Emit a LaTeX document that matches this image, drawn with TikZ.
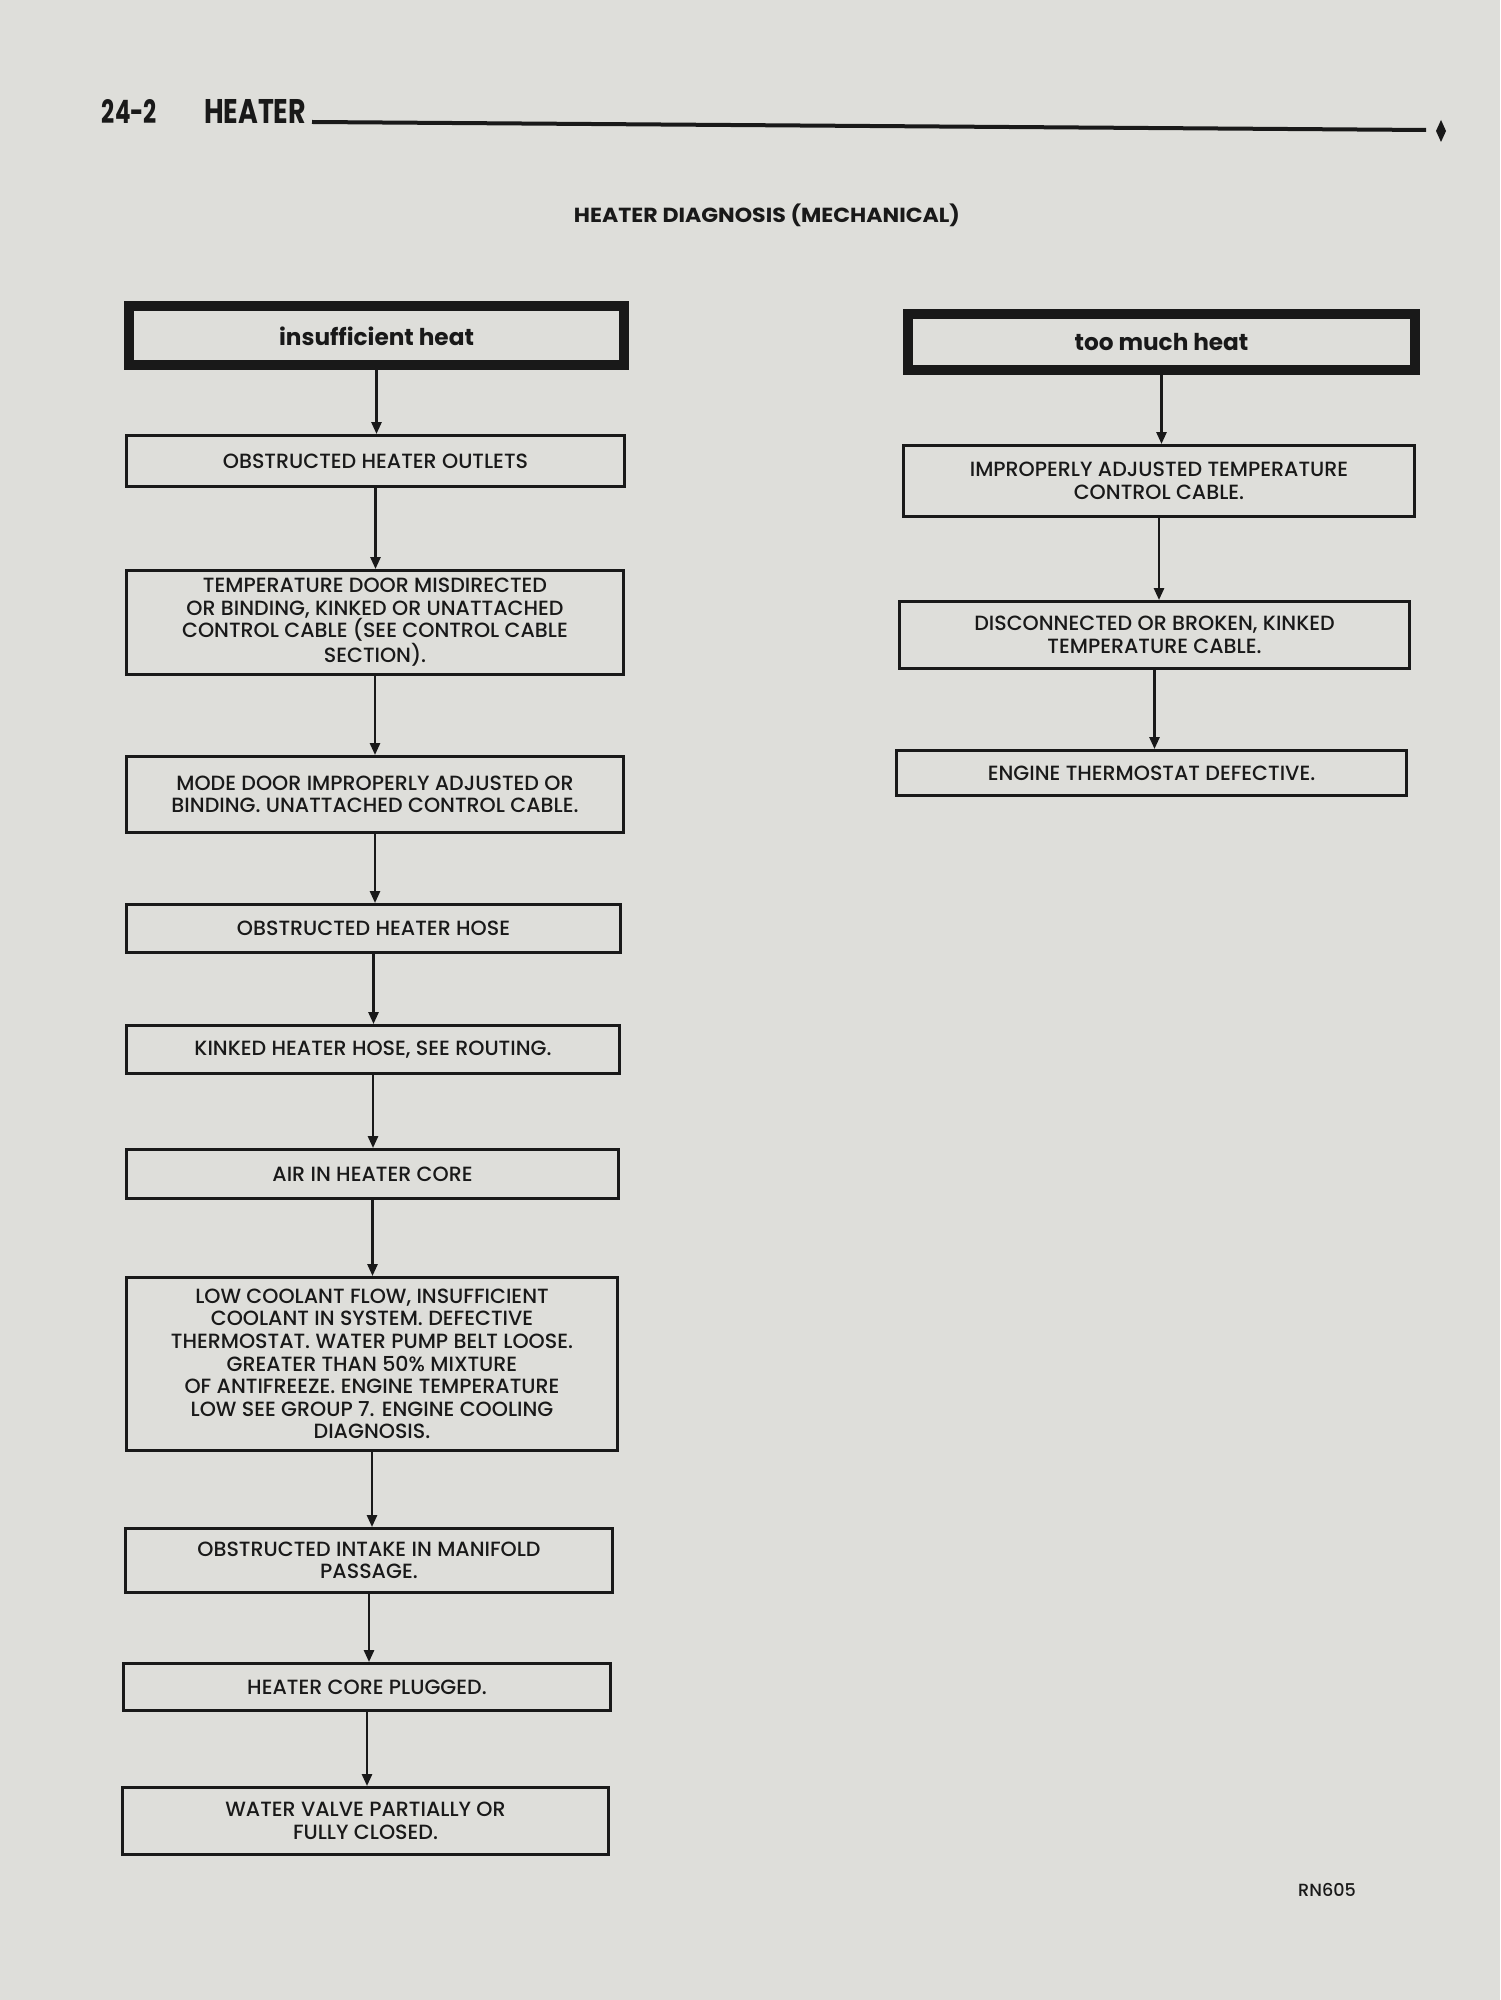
\documentclass[tikz,border=0pt]{standalone}
\usepackage{fontspec}
\setmainfont{Poppins}[UprightFont={* Medium}, BoldFont={* Bold}]
\usetikzlibrary{arrows.meta}
\definecolor{paper}{RGB}{222,222,218}
\definecolor{ink}{RGB}{25,25,25}
\begin{document}
\begin{tikzpicture}[x=0.5pt,y=-0.5pt,
  box/.style={draw=ink, line width=1.25pt, align=center, inner sep=0pt, text=ink,
    font=\fontsize{10.3}{11.3}\selectfont},
  topbox/.style={draw=ink, line width=5pt, align=center, inner sep=0pt, text=ink,
    font=\fontsize{11.6}{13}\selectfont\bfseries},
  flow/.style={draw=ink, line width=1.3pt, -{Triangle[length=6pt,width=5pt]}}
]
\fill[paper] (0,0) rectangle (1500,2000);
\useasboundingbox (0,0) rectangle (1500,2000);

% header
\node[text=ink] (pg) at (129.5,112) {\resizebox{27.5pt}{12pt}{\bfseries 24-2}};
\node[text=ink] (sec) at (255,112) {\resizebox{51pt}{12pt}{\bfseries HEATER}};
\coordinate (r1) at (312,122);
\coordinate (r2) at (1426,130);
\draw[ink, line width=2pt] (r1) -- (r2);
\fill[ink] (1441,120) -- (1446,131) -- (1441,142) -- (1436,131) -- cycle;
\node[text=ink] (title) at (767,215) {\resizebox{193pt}{9.3pt}{\bfseries HEATER DIAGNOSIS (MECHANICAL)}};

% left column
\node[topbox, minimum width=247.5pt, minimum height=29.5pt] (ins) at (376.5,336) {insufficient heat};
\node[box, minimum width=249.2pt, minimum height=25.7pt] (outlets) at (375.5,461) {OBSTRUCTED HEATER OUTLETS};
\node[box, minimum width=248.7pt, minimum height=52.2pt] (tempdoor) at (375,622.5) {TEMPERATURE DOOR MISDIRECTED\\OR BINDING, KINKED OR UNATTACHED\\CONTROL CABLE (SEE CONTROL CABLE\\SECTION).};
\node[box, minimum width=248.7pt, minimum height=38.2pt] (mode) at (375,794.5) {MODE DOOR IMPROPERLY ADJUSTED OR\\BINDING. UNATTACHED CONTROL CABLE.};
\node[box, minimum width=247.2pt, minimum height=24.2pt] (hose) at (373.5,928.5) {OBSTRUCTED HEATER HOSE};
\node[box, minimum width=246.7pt, minimum height=24.2pt] (kinked) at (373,1049.5) {KINKED HEATER HOSE, SEE ROUTING.};
\node[box, minimum width=246.2pt, minimum height=24.7pt] (air) at (372.5,1174) {AIR IN HEATER CORE};
\node[box, minimum width=245.7pt, minimum height=86.7pt] (lowcool) at (372,1364) {LOW COOLANT FLOW, INSUFFICIENT\\COOLANT IN SYSTEM. DEFECTIVE\\THERMOSTAT. WATER PUMP BELT LOOSE.\\GREATER THAN 50\% MIXTURE\\OF ANTIFREEZE. ENGINE TEMPERATURE\\LOW SEE GROUP 7. ENGINE COOLING\\DIAGNOSIS.};
\node[box, minimum width=243.7pt, minimum height=32.2pt] (intake) at (369,1560.5) {OBSTRUCTED INTAKE IN MANIFOLD\\PASSAGE.};
\node[box, minimum width=243.7pt, minimum height=23.7pt] (plugged) at (367,1687) {HEATER CORE PLUGGED.};
\node[box, minimum width=243.2pt, minimum height=33.7pt] (valve) at (365.5,1821) {WATER VALVE PARTIALLY OR\\FULLY CLOSED.};

% right column
\node[topbox, minimum width=253.5pt, minimum height=28pt] (toomuch) at (1161.5,342) {too much heat};
\node[box, minimum width=255.7pt, minimum height=35.7pt] (improp) at (1159,481) {IMPROPERLY ADJUSTED TEMPERATURE\\CONTROL CABLE.};
\node[box, minimum width=255.2pt, minimum height=33.7pt] (disc) at (1154.5,635) {DISCONNECTED OR BROKEN, KINKED\\TEMPERATURE CABLE.};
\node[box, minimum width=255.2pt, minimum height=22.7pt] (engine) at (1151.5,773) {ENGINE THERMOSTAT DEFECTIVE.};

% connectors
\foreach \a/\b in {ins/outlets, outlets/tempdoor, tempdoor/mode, mode/hose, hose/kinked, kinked/air, air/lowcool, lowcool/intake, intake/plugged, plugged/valve, toomuch/improp, improp/disc, disc/engine}
  \draw[flow] (\a.south) -- (\a.south |- \b.north);

\node[text=ink, font=\fontsize{8.8}{10}\selectfont] (rn) at (1327,1890) {RN605};
\end{tikzpicture}
\end{document}
